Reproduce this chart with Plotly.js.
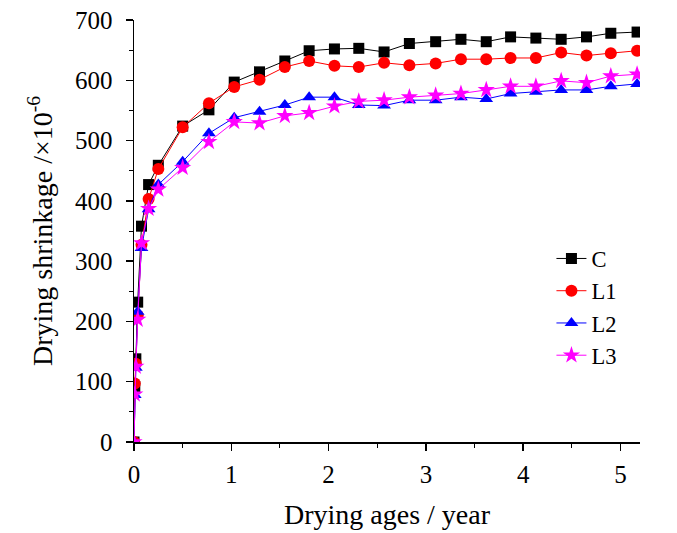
<!DOCTYPE html>
<html>
<head>
<meta charset="utf-8">
<script src="https://cdn.plot.ly/plotly-3.0.1.min.js"></script>
<style>html,body{margin:0;padding:0;background:#fff;}#chart{width:677px;height:533px;}</style>
</head>
<body>
<div id="chart"></div>
<script>
// Drying age (years)
var agesYear = [0, 0.008, 0.019, 0.038, 0.077, 0.15, 0.25, 0.5, 0.77, 1.03, 1.29, 1.55, 1.80, 2.06, 2.31, 2.57, 2.83, 3.10, 3.36, 3.62, 3.87, 4.13, 4.39, 4.65, 4.90, 5.17];
// Drying shrinkage (x10^-6)
var shrinkC  = [0, 92, 138, 232, 358, 427, 459, 524, 551, 597, 614, 632, 649, 652, 653, 647, 661, 664, 668, 664, 672, 670, 668, 672, 678, 680];
var shrinkL1 = [0, 97, 130, 210, 327, 403, 453, 522, 562, 589, 601, 622, 632, 624, 622, 629, 625, 628, 635, 635, 637, 637, 646, 641, 645, 649];
var shrinkL2 = [0, 78, 123, 216, 322, 386, 427, 465, 512, 538, 548, 559, 572, 572, 559, 558, 567, 567, 572, 569, 578, 581, 584, 584, 590, 594];
var shrinkL3 = [0, 79, 125, 203, 330, 387, 419, 455, 498, 531, 529, 541, 546, 557, 565, 567, 572, 575, 578, 584, 590, 590, 599, 596, 607, 610];
var seriesNames = ["C", "L1", "L2", "L3"];

var colors = ["#000000", "#ff0000", "#0000ff", "#ff00ff"];
var symbols = ["square", "circle", "triangle-up", "star"];
var sizes = [11, 12, 12, 13];
var ys = [shrinkC, shrinkL1, shrinkL2, shrinkL3];

var traces = ys.map(function (y, i) {
  return {
    x: agesYear, y: y, name: seriesNames[i], type: "scatter", mode: "lines+markers",
    line: {color: colors[i], width: 1},
    marker: {color: colors[i], symbol: symbols[i], size: sizes[i], line: {width: 0}}
  };
});

var serif = "Liberation Serif, Times New Roman, serif";
var layout = {
  width: 677, height: 533,
  margin: {l: 133.5, r: 36.5, t: 20, b: 90.5},
  paper_bgcolor: "#fff", plot_bgcolor: "#fff",
  font: {family: serif, color: "#000", size: 20},
  showlegend: true,
  legend: {x: 0.825, y: 0.485, xanchor: "left", yanchor: "top", bgcolor: "rgba(0,0,0,0)",
           font: {family: serif, size: 22.5, color: "#000"}, tracegroupgap: 0, itemwidth: 30},
  xaxis: {
    range: [0, 5.2], showgrid: false, zeroline: false,
    showline: true, linecolor: "#000", linewidth: 1.5,
    ticks: "outside", ticklen: 7, tickwidth: 1.5, tickcolor: "#000",
    tickmode: "array", tickvals: [0, 1, 2, 3, 4, 5], ticktext: ["0", "1", "2", "3", "4", "5"],
    minor: {tickvals: [0.5, 1.5, 2.5, 3.5, 4.5], ticks: "outside", ticklen: 4, tickwidth: 1, tickcolor: "#000"},
    tickfont: {family: serif, size: 25}, ticklabelstandoff: 2,
    title: {text: "Drying ages / year", font: {family: serif, size: 28}, standoff: 18}
  },
  yaxis: {
    range: [0, 700], showgrid: false, zeroline: false,
    showline: true, linecolor: "#000", linewidth: 1.5,
    ticks: "outside", ticklen: 7, tickwidth: 1.5, tickcolor: "#000",
    tickmode: "array", tickvals: [0, 100, 200, 300, 400, 500, 600, 700],
    minor: {tickvals: [50, 150, 250, 350, 450, 550, 650], ticks: "outside", ticklen: 4, tickwidth: 1, tickcolor: "#000"},
    tickfont: {family: serif, size: 25}, ticklabelstandoff: 8,
    title: {text: "Drying shrinkage /×10<sup>-6</sup>", font: {family: serif, size: 28}, standoff: 14}
  }
};

Plotly.newPlot("chart", traces, layout, {displayModeBar: false, staticPlot: true});
</script>
</body>
</html>
